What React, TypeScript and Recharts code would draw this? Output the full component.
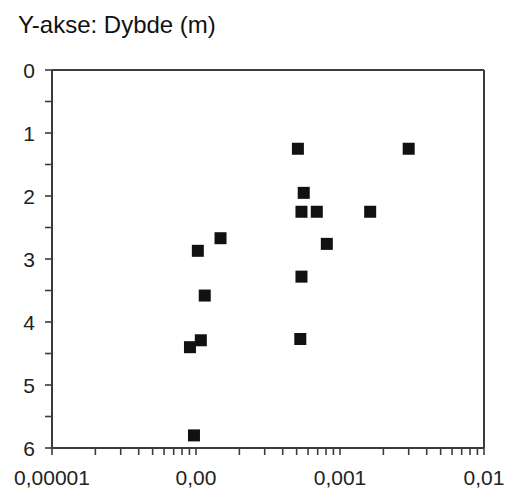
import React from "react";
import {
  ScatterChart,
  Scatter,
  XAxis,
  YAxis,
  ReferenceLine,
} from "recharts";

// concentration (x, log scale) vs depth in metres (y)
const concentration = [
  0.00051, 0.003, 0.00056, 0.00054, 0.00069, 0.00162, 0.000148, 0.000103,
  0.00081, 0.00054, 0.000115, 0.000108, 0.0000908, 0.00053, 0.0000968,
];
const depth = [
  1.25, 1.25, 1.95, 2.25, 2.25, 2.25, 2.67, 2.87, 2.76, 3.28, 3.58, 4.29, 4.4,
  4.27, 5.8,
];

const xMajorTicks = [0.00001, 0.0001, 0.001, 0.01];
const xTickLabels = ["0,00001", "0,00", "0,001", "0,01"];
const xMinorSteps = [2, 3, 4, 5, 6, 7, 8, 9];

const yTicks = [0, 0.5, 1, 1.5, 2, 2.5, 3, 3.5, 4, 4.5, 5, 5.5, 6];

const title = "Y-akse: Dybde (m)";

const AXIS = "#3c3c3c";
const FONT = "'Liberation Sans', Arial, sans-serif";
const MARK = 12;

const points = concentration.map((c, i) => ({ x: c, y: depth[i] }));

const xTicks = [
  ...xMajorTicks,
  ...xMajorTicks.slice(0, 3).flatMap((d) => xMinorSteps.map((m) => d * m)),
].sort((a, b) => a - b);

const XTick = (props: any) => {
  const { x, y, payload } = props;
  const idx = xMajorTicks.findIndex(
    (t) => Math.abs(t - payload.value) / t < 1e-6
  );
  if (idx < 0) return <g />;
  return (
    <text
      x={x}
      y={y}
      dy={28}
      textAnchor="middle"
      fill="#222"
      fontSize={21}
      fontFamily={FONT}
    >
      {xTickLabels[idx]}
    </text>
  );
};

const YTick = (props: any) => {
  const { x, y, payload } = props;
  if (!Number.isInteger(payload.value)) return <g />;
  return (
    <text
      x={x - 8}
      y={y}
      dy="0.36em"
      textAnchor="end"
      fill="#222"
      fontSize={21}
      fontFamily={FONT}
    >
      {payload.value}
    </text>
  );
};

const SquareDot = (props: any) => {
  const { cx, cy } = props;
  return (
    <rect
      x={cx - MARK / 2}
      y={cy - MARK / 2}
      width={MARK}
      height={MARK}
      fill="#111"
    />
  );
};

export default function App() {
  return (
    <div
      style={{
        position: "fixed",
        left: 0,
        top: 0,
        width: 528,
        height: 491,
        background: "#fff",
      }}
    >
      <div
        style={{
          position: "absolute",
          left: 18,
          top: 12,
          fontSize: 24,
          lineHeight: "26px",
          fontFamily: FONT,
          color: "#111",
        }}
      >
        {title}
      </div>
      <ScatterChart
        width={528}
        height={491}
        margin={{ top: 70, right: 44, bottom: 0, left: 0 }}
      >
        <XAxis
          type="number"
          dataKey="x"
          scale="log"
          domain={[0.00001, 0.01]}
          allowDataOverflow
          ticks={xTicks}
          interval={0}
          height={43}
          tickSize={7}
          tick={<XTick />}
          axisLine={{ stroke: AXIS, strokeWidth: 2 }}
          tickLine={{ stroke: AXIS, strokeWidth: 1.6 }}
        />
        <YAxis
          type="number"
          dataKey="y"
          domain={[0, 6]}
          reversed
          ticks={yTicks}
          interval={0}
          width={52}
          tickSize={7}
          tick={<YTick />}
          axisLine={{ stroke: AXIS, strokeWidth: 2 }}
          tickLine={{ stroke: AXIS, strokeWidth: 1.6 }}
        />
        <ReferenceLine y={0} stroke={AXIS} strokeWidth={2} />
        <ReferenceLine x={0.01} stroke={AXIS} strokeWidth={2} />
        <Scatter
          data={points}
          shape={<SquareDot />}
          fill="#111"
          isAnimationActive={false}
        />
      </ScatterChart>
    </div>
  );
}
